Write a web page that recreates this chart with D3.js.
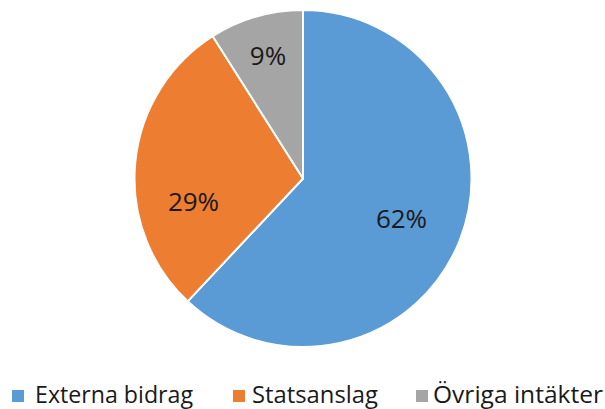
<!DOCTYPE html>
<html><head><meta charset="utf-8">
<script src="https://cdn.jsdelivr.net/npm/d3@7"></script>
<style>body{margin:0;background:#fff}svg{display:block}</style>
</head><body>
<svg id="c" width="605" height="409"></svg>
<script>
const categories = ["Externa bidrag", "Statsanslag", "Övriga intäkter"];
const values = [62, 29, 9];
const colors = ["#5B9BD5", "#ED7D31", "#A5A5A5"];

const svg = d3.select("#c");
const cx = 303, cy = 178.5, R = 168.5;
const font = "'Open Sans', 'Noto Sans', sans-serif";
const data = categories.map((c, i) => ({cat: c, v: values[i], col: colors[i]}));
const pie = d3.pie().value(d => d.v).sort(null);
const arcs = pie(data);
const arc = d3.arc().innerRadius(0).outerRadius(R);
const g = svg.append("g").attr("transform", `translate(${cx},${cy})`);
g.selectAll("path").data(arcs).join("path")
  .attr("d", arc).attr("fill", d => d.data.col)
  .attr("stroke", "#fff").attr("stroke-width", 2).attr("stroke-linejoin", "round");

// label placement (Excel "best fit"), offsets from the pie centre
const labelOff = [[98.5, 40], [-109.5, 23.5], [-35, -123]];
g.selectAll("text").data(arcs).join("text")
  .attr("x", (d, i) => labelOff[i][0]).attr("y", (d, i) => labelOff[i][1])
  .attr("text-anchor", "middle").attr("dy", "0.36em")
  .attr("font-family", font).attr("font-size", 26).attr("fill", "#1a1a1a")
  .text(d => d.data.v + "%");

const legX = [12, 233, 416];
const legTX = [35, 252, 433];
const legW = [158, 126, 170];
const lg = svg.append("g");
data.forEach((d, i) => {
  lg.append("rect").attr("x", legX[i]).attr("y", 390).attr("width", 12).attr("height", 12).attr("fill", d.col);
  lg.append("text").attr("x", legTX[i]).attr("y", 403)
    .attr("font-family", font).attr("font-size", 24.5).attr("fill", "#1a1a1a")
    .attr("textLength", legW[i]).attr("lengthAdjust", "spacingAndGlyphs")
    .text(d.cat);
});
</script>
</body></html>
